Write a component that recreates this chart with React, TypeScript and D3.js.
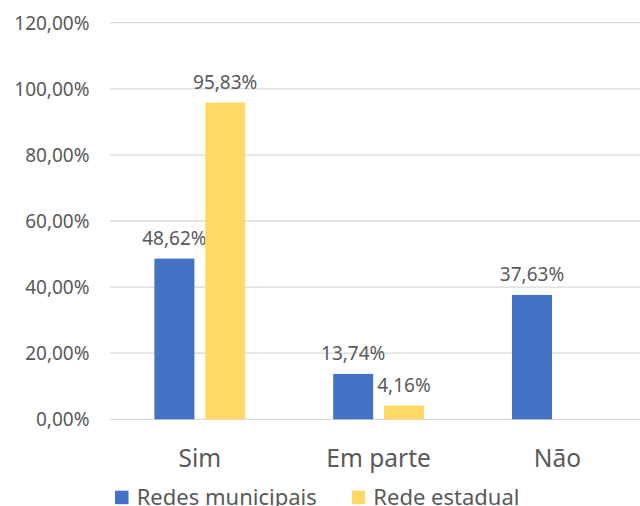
import React from "react";
import * as d3 from "d3";

const categories = ["Sim", "Em parte", "Não"];
const seriesNames = ["Redes municipais", "Rede estadual"];
const municipais: (number | null)[] = [48.62, 13.74, 37.63];
const estadual: (number | null)[] = [95.83, 4.16, null];
const yTicks = [0, 20, 40, 60, 80, 100, 120];
const colors = ["#4472C4", "#FFD966"];

const W = 640;
const H = 506;
const FONT = "'Noto Sans', sans-serif";
const TXT = "#595959";

const fmt = (v: number) => v.toFixed(2).replace(".", ",") + "%";

export default function App() {
  const x = d3.scaleBand<string>().domain(categories).range([110.4, 646.8]).paddingInner(0).paddingOuter(0);
  const y = d3.scaleLinear().domain([0, 120]).range([419.3, 22.7]);
  const bw = 40;
  const gap = 10.8;
  const series = [municipais, estadual];

  return (
    <svg width={W} height={H} style={{ position: "absolute", left: 0, top: 0, background: "#fff" }} fontFamily={FONT}>
      {yTicks.map((t) => (
        <g key={t}>
          <line x1={110} x2={W} y1={y(t)} y2={y(t)} stroke="#d9d9d9" strokeWidth={1.3} />
          <text x={89.5} y={y(t) + 6.8} textAnchor="end" fontSize={19} fill={TXT}>
            {t.toFixed(2).replace(".", ",") + "%"}
          </text>
        </g>
      ))}
      {categories.map((c, i) => {
        const cx = (x(c) as number) + x.bandwidth() / 2;
        return (
          <g key={c}>
            {series.map((s, k) => {
              const v = s[i];
              if (v == null) return null;
              const bx = k === 0 ? cx - gap / 2 - bw : cx + gap / 2;
              return (
                <g key={k}>
                  <rect x={bx} y={y(v)} width={bw} height={y(0) - y(v)} fill={colors[k]} />
                  <text x={bx + bw / 2} y={y(v) - 14} textAnchor="middle" fontSize={19} fill={TXT}>
                    {fmt(v)}
                  </text>
                </g>
              );
            })}
            <text x={cx} y={466.7} textAnchor="middle" fontSize={24.5} fill={TXT}>
              {c}
            </text>
          </g>
        );
      })}
      <g>
        <rect x={115} y={490.7} width={13.5} height={13.5} fill={colors[0]} />
        <text x={136.7} y={504.5} fontSize={22} fill={TXT}>{seriesNames[0]}</text>
        <rect x={351.7} y={490.7} width={13.5} height={13.5} fill={colors[1]} />
        <text x={373.3} y={504.5} fontSize={22} fill={TXT}>{seriesNames[1]}</text>
      </g>
    </svg>
  );
}
